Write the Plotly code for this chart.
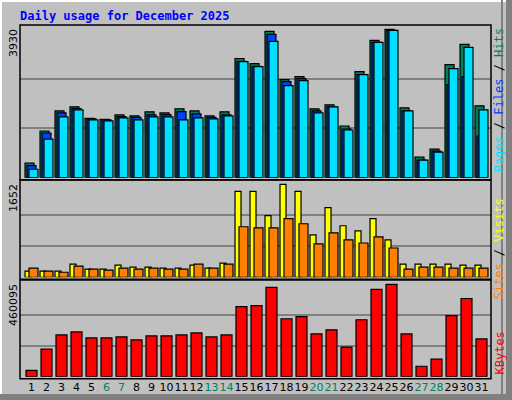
import plotly.graph_objects as go

days = list(range(1, 32))
hits = [384,1237,1770,1877,1573,1546,1664,1637,1744,1717,1824,1770,1637,1744,3157,3024,
        3877,2597,2677,1824,1930,1370,2810,3637,3930,1850,544,757,2997,3530,1904]
files = [320,1184,1717,1832,1557,1530,1618,1600,1664,1672,1752,1690,1600,1664,3085,2952,
         3797,2544,2624,1770,1877,1290,2730,3584,3904,1770,464,704,2464,2677,1104]
pages = [224,1024,1610,1797,1530,1504,1584,1530,1610,1610,1530,1584,1557,1637,3077,2944,
         3610,2437,2570,1717,1877,1264,2730,3584,3904,1770,464,677,2890,3450,1797]
visits = [108,108,108,233,144,144,215,180,180,162,162,215,162,251,1526,1526,
          1095,1652,1526,754,1239,916,826,1041,664,233,233,233,233,215,215]
sites = [162,108,90,198,144,126,162,144,162,144,144,233,162,233,898,880,
         880,1041,952,593,790,664,610,718,521,144,180,180,162,162,162]
kbytes = [31905,137700,208200,223300,193100,193100,198100,183000,203200,203200,208200,218300,
          198100,208200,349300,354300,445000,288800,298900,213300,233400,147800,283800,434900,
          460095,213300,52050,87300,303900,389600,188100]
weekends = [6,7,13,14,20,21,27,28]

W, H = 512, 400
BG = "#C0C0C0"
fig = go.Figure()

def py(p):
    return 1 - p / H

xdom = [20 / W, 491 / W]
xr = [0.5 - 4/15, 0.5 - 4/15 + 471/15]

panels = [
    ("y", 25, 176.7, max(hits), 29.3),
    ("y2", 180, 276.3, max(visits), 184.3),
    ("y3", 280, 375.7, max(kbytes), 284.3),
]

def add_bar(vals, color, axis, xa, width, offset):
    fig.add_trace(go.Bar(x=days, y=vals, marker=dict(color=color, line=dict(color="black", width=1.2)),
                         width=width, offset=offset, xaxis=xa, yaxis=axis, showlegend=False, hoverinfo="skip"))

add_bar(hits, "#00805C", "y", "x", 0.6, -0.433)
add_bar(files, "#0040FF", "y", "x", 0.6, -0.3)
add_bar(pages, "#00E0FF", "y", "x", 0.6, -0.167)
add_bar(visits, "#FFFF00", "y2", "x2", 0.4, -0.433)
add_bar(sites, "#FF8000", "y2", "x2", 0.6, -0.167)
add_bar(kbytes, "#FF0000", "y3", "x3", 0.733, -0.367)

layout = dict(width=W, height=H, margin=dict(l=0, r=0, t=0, b=0), paper_bgcolor=BG, plot_bgcolor=BG,
              barmode="overlay", font=dict(family="DejaVu Sans", size=11, color="black"))
for i, (ax, top, base, vmax, maxpx) in enumerate(panels):
    per = vmax / (base - maxpx)
    rng = [0, (base - top) * per]
    bottom_px = base + 1
    suffix = "" if i == 0 else str(i + 1)
    layout["yaxis" + suffix] = dict(domain=[py(bottom_px), py(top)], range=rng, anchor="x" + suffix,
                                    tickvals=[vmax / 3, 2 * vmax / 3], showticklabels=False,
                                    showgrid=True, gridcolor="#808080", gridwidth=1.5, zeroline=False,
                                    fixedrange=True)
    layout["xaxis" + suffix] = dict(domain=xdom, range=xr, anchor="y" + suffix, showgrid=False,
                                    zeroline=False, showticklabels=(i == 2), fixedrange=True,
                                    tickvals=[d + 0.0 for d in days], tickangle=0,
                                    ticktext=[f"<span style='color:#00805C'>{d}</span>" if d in weekends else str(d) for d in days],
                                    ticks="", ticklabelstandoff=2, tickfont=dict(size=11, family="DejaVu Sans"))
    fig.add_shape(type="rect", xref="paper", yref="paper", x0=xdom[0], x1=xdom[1], y0=py(bottom_px + 2), y1=py(top),
                  line=dict(color="black", width=1.5))
    fig.add_annotation(text=f"{int(vmax)}", xref="paper", yref="paper", x=13 / W, y=py(top + 2),
                       xanchor="center", yanchor="top", textangle=-90, showarrow=False,
                       font=dict(size=11, family="DejaVu Sans"))

fig.update_layout(**layout)

fig.add_shape(type="rect", xref="paper", yref="paper", x0=1/W, x1=1 - 1/W, y0=1/H, y1=1 - 1/H,
              line=dict(color="white", width=2))
fig.add_shape(type="line", xref="paper", yref="paper", x0=1 - 10/W, x1=1 - 10/W, y0=0, y1=1,
              line=dict(color="#808080", width=2))
fig.add_shape(type="line", xref="paper", yref="paper", x0=1 - 3/W, x1=1 - 3/W, y0=0, y1=1,
              line=dict(color="#808080", width=6))
fig.add_shape(type="line", xref="paper", yref="paper", x0=0, x1=1, y0=3/H, y1=3/H,
              line=dict(color="#808080", width=6))

fig.add_annotation(text="<b>Daily usage for December 2025</b>", xref="paper", yref="paper", x=18/W, y=py(7),
                   xanchor="left", yanchor="top", showarrow=False,
                   font=dict(family="DejaVu Sans Mono", size=12, color="#0000FF"))

mono = dict(family="DejaVu Sans Mono", size=12)
fig.add_annotation(text="<span style='color:#00E0FF'>Pages</span> / <span style='color:#0040FF'>Files</span> / <span style='color:#00805C'>Hits</span>",
                   xref="paper", yref="paper", x=499/W, y=py(26), xanchor="center", yanchor="top",
                   textangle=-90, showarrow=False, font=mono)
fig.add_annotation(text="<span style='color:#FF8000'>Sites</span> / <span style='color:#FFFF00'>Visits</span>",
                   xref="paper", yref="paper", x=499/W, y=py(197), xanchor="center", yanchor="top",
                   textangle=-90, showarrow=False, font=mono)
fig.add_annotation(text="<span style='color:#FF0000'>KBytes</span>",
                   xref="paper", yref="paper", x=499/W, y=py(330), xanchor="center", yanchor="top",
                   textangle=-90, showarrow=False, font=mono)

fig.write_html("out.html", config={"displayModeBar": False})
with open("out.html", encoding="utf-8") as f:
    html = f.read()
html = html.replace("<body>", "<body style='margin:0;padding:0;overflow:hidden'>", 1)
with open("out.html", "w", encoding="utf-8") as f:
    f.write(html)
